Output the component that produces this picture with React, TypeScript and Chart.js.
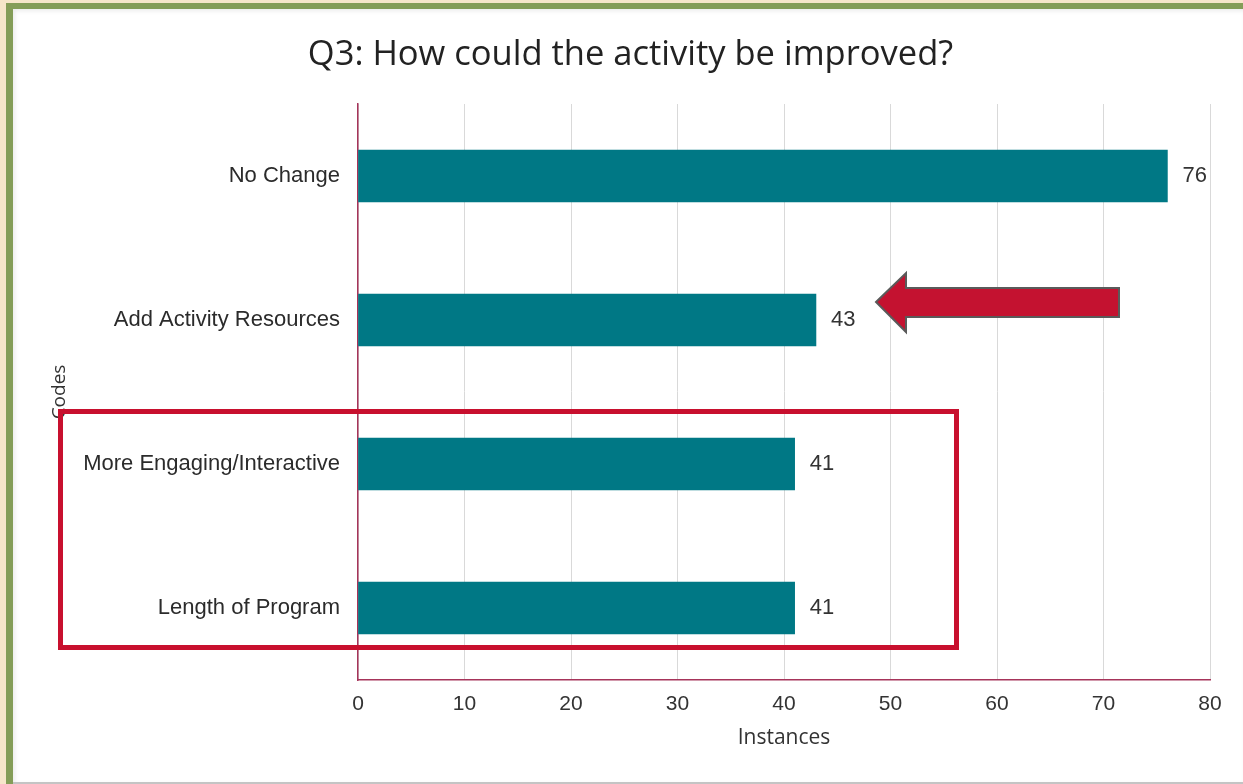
import React, { useEffect, useRef } from "react";
import { Chart, registerables } from "chart.js";

Chart.register(...registerables);

const TITLE = "Q3: How could the activity be improved?";
const categories = [
  "No Change",
  "Add Activity Resources",
  "More Engaging/Interactive",
  "Length of Program",
];
const instances = [76, 43, 41, 41];
const xTicks = [0, 10, 20, 30, 40, 50, 60, 70, 80];
const X_TITLE = "Instances";
const Y_TITLE = "Codes";

const BAR = "#007885";
const AXIS = "#A6345A";
const GRID = "#D9D9D9";
const RED = "#C8102E";

const titlePlugin = {
  id: "pageTitle",
  afterDraw(chart: any) {
    const ctx = chart.ctx;
    ctx.save();
    ctx.font = "34.5px 'Open Sans', sans-serif";
    ctx.fillStyle = "#222222";
    ctx.textAlign = "center";
    ctx.textBaseline = "alphabetic";
    ctx.fillText(TITLE, 630.5, 65);
    ctx.restore();
  },
};

const valueLabels = {
  id: "valueLabels",
  afterDatasetsDraw(chart: any) {
    const ctx = chart.ctx;
    const meta = chart.getDatasetMeta(0);
    ctx.save();
    ctx.font = "22px 'Liberation Sans', Arial, sans-serif";
    ctx.fillStyle = "#333333";
    ctx.textAlign = "left";
    ctx.textBaseline = "middle";
    meta.data.forEach((el: any, i: number) => {
      ctx.fillText(String(instances[i]), el.x + 15, el.y);
    });
    ctx.restore();
  },
};

const annotations = {
  id: "annotations",
  afterDraw(chart: any) {
    const ctx = chart.ctx;
    ctx.save();
    // highlight rectangle
    ctx.strokeStyle = RED;
    ctx.lineWidth = 5;
    ctx.strokeRect(60.5, 411.5, 896, 236);
    // arrow
    ctx.beginPath();
    ctx.moveTo(876, 302);
    ctx.lineTo(906, 273);
    ctx.lineTo(906, 288);
    ctx.lineTo(1119, 288);
    ctx.lineTo(1119, 317);
    ctx.lineTo(906, 317);
    ctx.lineTo(906, 332);
    ctx.closePath();
    ctx.fillStyle = "#C41230";
    ctx.fill();
    ctx.strokeStyle = "#5a5a5a";
    ctx.lineWidth = 2;
    ctx.stroke();
    ctx.restore();
  },
};

function BarChart() {
  const ref = useRef<HTMLCanvasElement | null>(null);
  useEffect(() => {
    if (!ref.current) return;
    const chart = new Chart(ref.current, {
      type: "bar",
      data: {
        labels: categories,
        datasets: [
          {
            data: instances,
            backgroundColor: BAR,
            barThickness: 52,
          },
        ],
      },
      options: {
        indexAxis: "y",
        animation: false,
        responsive: false,
        layout: { padding: { left: 0, right: 33, top: 104, bottom: 0 } },
        plugins: {
          legend: { display: false },
          tooltip: { enabled: false },
          title: { display: false },
        },
        scales: {
          x: {
            min: 0,
            max: 80,
            afterBuildTicks: (scale: any) => {
              scale.ticks = xTicks.map((v) => ({ value: v }));
            },
            afterFit: (scale: any) => {
              scale.height = 104;
            },
            grid: { color: GRID, drawTicks: false, lineWidth: 1 },
            border: { color: AXIS, width: 1.5 },
            ticks: {
              padding: 12,
              color: "#333333",
              font: { family: "'Liberation Sans', Arial, sans-serif", size: 21 },
            },
            title: {
              display: true,
              text: X_TITLE,
              color: "#333333",
              font: { family: "'Open Sans', sans-serif", size: 21 },
              padding: { top: 0, bottom: 33 },
            },
          },
          y: {
            afterFit: (scale: any) => {
              scale.width = 358;
            },
            grid: { display: false, drawTicks: false },
            border: { color: AXIS, width: 1.5 },
            ticks: {
              padding: 18,
              color: "#2b2b2b",
              font: { family: "'Liberation Sans', Arial, sans-serif", size: 22 },
            },
            title: {
              display: true,
              text: Y_TITLE,
              color: "#333333",
              font: { family: "'Open Sans', sans-serif", size: 19 },
              padding: { top: 48, bottom: 0 },
            },
          },
        },
      },
      plugins: [valueLabels, annotations, titlePlugin],
    });
    return () => chart.destroy();
  }, []);
  return (
    <canvas
      ref={ref}
      width={1243}
      height={784}
      style={{ position: "absolute", left: 0, top: 0, width: 1243, height: 784 }}
    />
  );
}

export default function App() {
  return (
    <div
      style={{
        position: "fixed",
        left: 0,
        top: 0,
        width: 1243,
        height: 784,
        overflow: "hidden",
        background: "#F6E6CA",
      }}
    >
      <div
        style={{
          position: "absolute",
          left: 6,
          top: 3,
          right: 0,
          bottom: 0,
          background: "#849D58",
        }}
      />
      <div
        style={{
          position: "absolute",
          left: 13,
          top: 9,
          right: 0,
          bottom: 2,
          background: "#FFFFFF",
          boxShadow: "inset 2px 2px 4px rgba(0,0,0,0.08)",
        }}
      />
      <div
        style={{
          position: "absolute",
          left: 13,
          right: 0,
          bottom: 0,
          height: 2,
          background: "#C4C4C4",
        }}
      />
      <BarChart />
    </div>
  );
}
